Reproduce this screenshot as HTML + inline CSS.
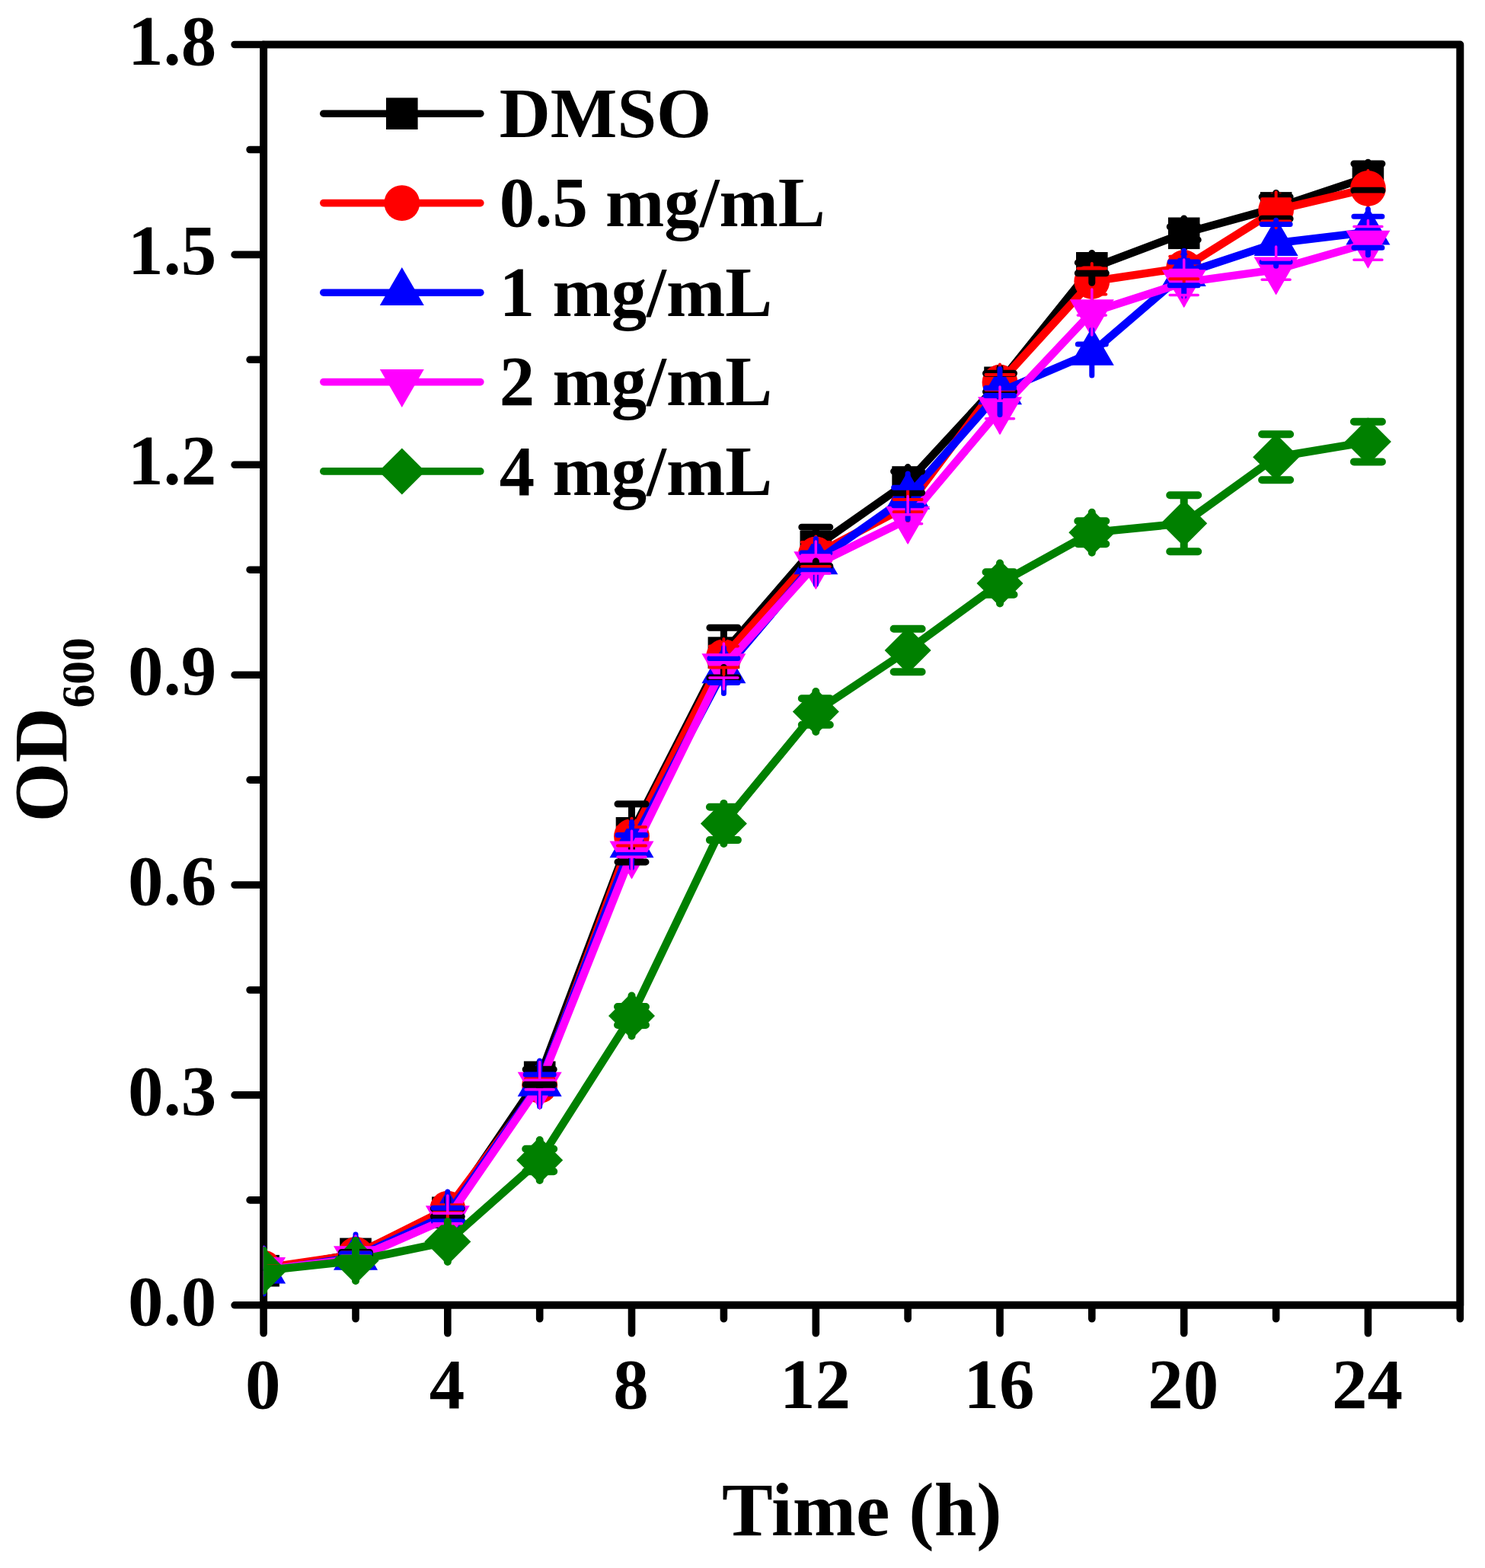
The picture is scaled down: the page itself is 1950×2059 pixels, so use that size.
<!DOCTYPE html>
<html><head><meta charset="utf-8"><title>OD600 growth curve</title>
<style>
html,body{margin:0;padding:0;background:#fff;}
body{width:1950px;height:2059px;overflow:hidden;}
svg{display:block;}
text{font-family:"Liberation Serif","Times New Roman",serif;font-weight:bold;fill:#000;}
</style></head><body>
<svg width="1950" height="2059" viewBox="0 0 1950 2059">
<rect width="1950" height="2059" fill="#fff"/>
<defs><clipPath id="pc"><rect x="345.6" y="58.5" width="1571.6999999999998" height="1655.3"/></clipPath></defs>

<path d="M346.1,58.5 H1917.3 V1713.8 H346.1 Z" fill="none" stroke="#000" stroke-width="10" stroke-linejoin="round"/>
<path d="M308.1,1713.8 H346.1 M328.1,1575.9 H346.1 M308.1,1437.9 H346.1 M328.1,1300.0 H346.1 M308.1,1162.0 H346.1 M328.1,1024.1 H346.1 M308.1,886.2 H346.1 M328.1,748.2 H346.1 M308.1,610.3 H346.1 M328.1,472.3 H346.1 M308.1,334.4 H346.1 M328.1,196.5 H346.1 M308.1,58.5 H346.1 M346.1,1713.8 V1750.8 M467.0,1713.8 V1731.8 M587.8,1713.8 V1750.8 M708.7,1713.8 V1731.8 M829.5,1713.8 V1750.8 M950.4,1713.8 V1731.8 M1071.3,1713.8 V1750.8 M1192.1,1713.8 V1731.8 M1313.0,1713.8 V1750.8 M1433.8,1713.8 V1731.8 M1554.7,1713.8 V1750.8 M1675.6,1713.8 V1731.8 M1796.4,1713.8 V1750.8 M1917.3,1713.8 V1731.8" fill="none" stroke="#000" stroke-width="9.6" stroke-linecap="round"/>
<text x="284.2" y="1739.8" font-size="93" text-anchor="end">0.0</text>
<text x="284.2" y="1463.9" font-size="93" text-anchor="end">0.3</text>
<text x="284.2" y="1188.0" font-size="93" text-anchor="end">0.6</text>
<text x="284.2" y="912.2" font-size="93" text-anchor="end">0.9</text>
<text x="284.2" y="636.3" font-size="93" text-anchor="end">1.2</text>
<text x="284.2" y="360.4" font-size="93" text-anchor="end">1.5</text>
<text x="284.2" y="84.5" font-size="93" text-anchor="end">1.8</text>
<text x="345.2" y="1849" font-size="93" text-anchor="middle">0</text>
<text x="586.9" y="1849" font-size="93" text-anchor="middle">4</text>
<text x="828.6" y="1849" font-size="93" text-anchor="middle">8</text>
<text x="1070.4" y="1849" font-size="93" text-anchor="middle">12</text>
<text x="1312.1" y="1849" font-size="93" text-anchor="middle">16</text>
<text x="1553.8" y="1849" font-size="93" text-anchor="middle">20</text>
<text x="1795.5" y="1849" font-size="93" text-anchor="middle">24</text>
<text x="1131.8" y="2015.8" font-size="100" text-anchor="middle">Time (h)</text>
<text transform="translate(86.8,1079.4) rotate(-90)" font-size="100">OD<tspan font-size="61.5" dy="36">600</tspan></text>
<g clip-path="url(#pc)">
<polyline points="346.1,1668.7 467.0,1646.4 587.8,1592.3 708.7,1414.3 829.5,1093.8 950.4,857.1 1071.3,717.7 1192.1,633.0 1313.0,502.3 1433.8,351.8 1554.7,306.3 1675.6,272.9 1796.4,232.6" fill="none" stroke="#000000" stroke-width="10.5" stroke-linejoin="round" stroke-linecap="round"/>
<rect x="325.3" y="1647.9" width="41.6" height="41.6" fill="#000000"/>
<rect x="446.2" y="1625.6" width="41.6" height="41.6" fill="#000000"/>
<rect x="567.0" y="1571.5" width="41.6" height="41.6" fill="#000000"/>
<rect x="687.9" y="1393.5" width="41.6" height="41.6" fill="#000000"/>
<rect x="808.7" y="1073.0" width="41.6" height="41.6" fill="#000000"/>
<rect x="929.6" y="836.3" width="41.6" height="41.6" fill="#000000"/>
<rect x="1050.5" y="696.9" width="41.6" height="41.6" fill="#000000"/>
<rect x="1171.3" y="612.2" width="41.6" height="41.6" fill="#000000"/>
<rect x="1292.2" y="481.5" width="41.6" height="41.6" fill="#000000"/>
<rect x="1413.0" y="331.0" width="41.6" height="41.6" fill="#000000"/>
<rect x="1533.9" y="285.5" width="41.6" height="41.6" fill="#000000"/>
<rect x="1654.8" y="252.1" width="41.6" height="41.6" fill="#000000"/>
<rect x="1775.6" y="211.8" width="41.6" height="41.6" fill="#000000"/>
<polyline points="346.1,1665.2 467.0,1647.5 587.8,1587.2 708.7,1425.4 829.5,1098.3 950.4,862.6 1071.3,727.9 1192.1,664.1 1313.0,502.0 1433.8,369.5 1554.7,351.5 1675.6,275.8 1796.4,247.4" fill="none" stroke="#FF0000" stroke-width="10.5" stroke-linejoin="round" stroke-linecap="round"/>
<circle cx="346.1" cy="1665.2" r="23.4" fill="#FF0000"/>
<circle cx="467.0" cy="1647.5" r="23.4" fill="#FF0000"/>
<circle cx="587.8" cy="1587.2" r="23.4" fill="#FF0000"/>
<circle cx="708.7" cy="1425.4" r="23.4" fill="#FF0000"/>
<circle cx="829.5" cy="1098.3" r="23.4" fill="#FF0000"/>
<circle cx="950.4" cy="862.6" r="23.4" fill="#FF0000"/>
<circle cx="1071.3" cy="727.9" r="23.4" fill="#FF0000"/>
<circle cx="1192.1" cy="664.1" r="23.4" fill="#FF0000"/>
<circle cx="1313.0" cy="502.0" r="23.4" fill="#FF0000"/>
<circle cx="1433.8" cy="369.5" r="23.4" fill="#FF0000"/>
<circle cx="1554.7" cy="351.5" r="23.4" fill="#FF0000"/>
<circle cx="1675.6" cy="275.8" r="23.4" fill="#FF0000"/>
<circle cx="1796.4" cy="247.4" r="23.4" fill="#FF0000"/>
<polyline points="346.1,1668.9 467.0,1651.0 587.8,1595.0 708.7,1423.0 829.5,1109.5 950.4,880.5 1071.3,737.5 1192.1,652.0 1313.0,514.5 1433.8,463.0 1554.7,359.3 1675.6,319.2 1796.4,304.7" fill="none" stroke="#0000FF" stroke-width="10.5" stroke-linejoin="round" stroke-linecap="round"/>
<polygon points="346.1,1635.6 375.1,1685.6 317.1,1685.6" fill="#0000FF"/>
<polygon points="467.0,1617.7 496.0,1667.7 438.0,1667.7" fill="#0000FF"/>
<polygon points="587.8,1561.7 616.8,1611.7 558.8,1611.7" fill="#0000FF"/>
<polygon points="708.7,1389.7 737.7,1439.7 679.7,1439.7" fill="#0000FF"/>
<polygon points="829.5,1076.2 858.5,1126.2 800.5,1126.2" fill="#0000FF"/>
<polygon points="950.4,847.2 979.4,897.2 921.4,897.2" fill="#0000FF"/>
<polygon points="1071.3,704.2 1100.3,754.2 1042.3,754.2" fill="#0000FF"/>
<polygon points="1192.1,618.7 1221.1,668.7 1163.1,668.7" fill="#0000FF"/>
<polygon points="1313.0,481.2 1342.0,531.2 1284.0,531.2" fill="#0000FF"/>
<polygon points="1433.8,429.7 1462.8,479.7 1404.8,479.7" fill="#0000FF"/>
<polygon points="1554.7,326.0 1583.7,376.0 1525.7,376.0" fill="#0000FF"/>
<polygon points="1675.6,285.9 1704.6,335.9 1646.6,335.9" fill="#0000FF"/>
<polygon points="1796.4,271.4 1825.4,321.4 1767.4,321.4" fill="#0000FF"/>
<polyline points="346.1,1667.8 467.0,1652.9 587.8,1600.0 708.7,1424.5 829.5,1121.3 950.4,875.0 1071.3,741.0 1192.1,681.7 1313.0,538.0 1433.8,410.0 1554.7,370.9 1675.6,354.1 1796.4,319.4" fill="none" stroke="#FF00FF" stroke-width="10.5" stroke-linejoin="round" stroke-linecap="round"/>
<polygon points="346.1,1701.1 375.1,1651.1 317.1,1651.1" fill="#FF00FF"/>
<polygon points="467.0,1686.2 496.0,1636.2 438.0,1636.2" fill="#FF00FF"/>
<polygon points="587.8,1633.3 616.8,1583.3 558.8,1583.3" fill="#FF00FF"/>
<polygon points="708.7,1457.8 737.7,1407.8 679.7,1407.8" fill="#FF00FF"/>
<polygon points="829.5,1154.6 858.5,1104.6 800.5,1104.6" fill="#FF00FF"/>
<polygon points="950.4,908.3 979.4,858.3 921.4,858.3" fill="#FF00FF"/>
<polygon points="1071.3,774.3 1100.3,724.3 1042.3,724.3" fill="#FF00FF"/>
<polygon points="1192.1,715.0 1221.1,665.0 1163.1,665.0" fill="#FF00FF"/>
<polygon points="1313.0,571.3 1342.0,521.3 1284.0,521.3" fill="#FF00FF"/>
<polygon points="1433.8,443.3 1462.8,393.3 1404.8,393.3" fill="#FF00FF"/>
<polygon points="1554.7,404.2 1583.7,354.2 1525.7,354.2" fill="#FF00FF"/>
<polygon points="1675.6,387.4 1704.6,337.4 1646.6,337.4" fill="#FF00FF"/>
<polygon points="1796.4,352.7 1825.4,302.7 1767.4,302.7" fill="#FF00FF"/>
<polyline points="346.1,1668.5 467.0,1655.5 587.8,1630.5 708.7,1523.5 829.5,1334.0 950.4,1081.4 1071.3,934.5 1192.1,854.0 1313.0,766.0 1433.8,699.2 1554.7,687.3 1675.6,600.2 1796.4,580.1" fill="none" stroke="#008000" stroke-width="10.5" stroke-linejoin="round" stroke-linecap="round"/>
<polygon points="346.1,1638.0 376.6,1668.5 346.1,1699.0 315.6,1668.5" fill="#008000"/>
<polygon points="467.0,1625.0 497.5,1655.5 467.0,1686.0 436.5,1655.5" fill="#008000"/>
<polygon points="587.8,1600.0 618.3,1630.5 587.8,1661.0 557.3,1630.5" fill="#008000"/>
<polygon points="708.7,1493.0 739.2,1523.5 708.7,1554.0 678.2,1523.5" fill="#008000"/>
<polygon points="829.5,1303.5 860.0,1334.0 829.5,1364.5 799.0,1334.0" fill="#008000"/>
<polygon points="950.4,1050.9 980.9,1081.4 950.4,1111.9 919.9,1081.4" fill="#008000"/>
<polygon points="1071.3,904.0 1101.8,934.5 1071.3,965.0 1040.8,934.5" fill="#008000"/>
<polygon points="1192.1,823.5 1222.6,854.0 1192.1,884.5 1161.6,854.0" fill="#008000"/>
<polygon points="1313.0,735.5 1343.5,766.0 1313.0,796.5 1282.5,766.0" fill="#008000"/>
<polygon points="1433.8,668.7 1464.3,699.2 1433.8,729.7 1403.3,699.2" fill="#008000"/>
<polygon points="1554.7,656.8 1585.2,687.3 1554.7,717.8 1524.2,687.3" fill="#008000"/>
<polygon points="1675.6,569.7 1706.1,600.2 1675.6,630.7 1645.1,600.2" fill="#008000"/>
<polygon points="1796.4,549.6 1826.9,580.1 1796.4,610.6 1765.9,580.1" fill="#008000"/>
<path d="M346.1,1649.3 V1666.70 M346.1,1688.1 V1670.70 M327.6,1666.7 H364.6 M327.6,1670.7 H364.6 M467.0,1627.0 V1644.40 M467.0,1665.8 V1648.40 M448.5,1644.4 H485.5 M448.5,1648.4 H485.5 M587.8,1572.9 V1587.00 M587.8,1611.7 V1597.60 M569.3,1587.0 H606.3 M569.3,1597.6 H606.3 M708.7,1394.9 V1404.30 M708.7,1433.7 V1424.30 M690.2,1404.3 H727.2 M690.2,1424.3 H727.2 M829.5,1074.4 V1055.70 M829.5,1113.2 V1131.90 M811.0,1055.7 H848.0 M811.0,1131.9 H848.0 M950.4,837.7 V824.30 M950.4,876.5 V889.90 M931.9,824.3 H968.9 M931.9,889.9 H968.9 M1071.3,698.3 V692.20 M1071.3,737.1 V743.20 M1052.8,692.2 H1089.8 M1052.8,743.2 H1089.8 M1192.1,613.6 V619.00 M1192.1,652.4 V647.00 M1173.6,619.0 H1210.6 M1173.6,647.0 H1210.6 M1313.0,482.9 V490.20 M1313.0,521.7 V514.40 M1294.5,490.2 H1331.5 M1294.5,514.4 H1331.5 M1433.8,332.4 V344.90 M1433.8,371.2 V358.70 M1415.3,344.9 H1452.3 M1415.3,358.7 H1452.3 M1554.7,286.9 V297.70 M1554.7,325.7 V314.90 M1536.2,297.7 H1573.2 M1536.2,314.9 H1573.2 M1675.6,253.5 V258.50 M1675.6,292.3 V287.30 M1657.1,258.5 H1694.1 M1657.1,287.3 H1694.1 M1796.4,213.2 V215.00 M1796.4,252.0 V250.20 M1777.9,215.0 H1814.9 M1777.9,250.2 H1814.9" fill="none" stroke="#000000" stroke-width="9" stroke-linecap="round"/>
<path d="M346.1,1641.7 V1662.20 M346.1,1688.7 V1668.20 M327.6,1662.2 H364.6 M327.6,1668.2 H364.6 M467.0,1624.0 V1644.50 M467.0,1671.0 V1650.50 M448.5,1644.5 H485.5 M448.5,1650.5 H485.5 M587.8,1563.7 V1582.20 M587.8,1610.7 V1592.20 M569.3,1582.2 H606.3 M569.3,1592.2 H606.3 M708.7,1401.9 V1416.00 M708.7,1448.9 V1434.80 M690.2,1416.0 H727.2 M690.2,1434.8 H727.2 M829.5,1074.8 V1086.00 M829.5,1121.8 V1110.60 M811.0,1086.0 H848.0 M811.0,1110.6 H848.0 M950.4,839.1 V848.60 M950.4,886.1 V876.60 M931.9,848.6 H968.9 M931.9,876.6 H968.9 M1071.3,704.4 V711.90 M1071.3,751.4 V743.90 M1052.8,711.9 H1089.8 M1052.8,743.9 H1089.8 M1192.1,640.6 V656.00 M1192.1,687.6 V672.20 M1173.6,656.0 H1210.6 M1173.6,672.2 H1210.6 M1313.0,478.5 V492.00 M1313.0,525.5 V512.00 M1294.5,492.0 H1331.5 M1294.5,512.0 H1331.5 M1433.8,346.0 V352.50 M1433.8,393.0 V386.50 M1415.3,352.5 H1452.3 M1415.3,386.5 H1452.3 M1554.7,328.0 V336.70 M1554.7,375.0 V366.30 M1536.2,336.7 H1573.2 M1536.2,366.3 H1573.2 M1675.6,252.3 V261.20 M1675.6,299.3 V290.40 M1657.1,261.2 H1694.1 M1657.1,290.4 H1694.1 M1796.4,223.9 V239.40 M1796.4,270.9 V255.40 M1777.9,239.4 H1814.9 M1777.9,255.4 H1814.9" fill="none" stroke="#FF0000" stroke-width="4" stroke-linecap="round"/>
<path d="M346.1,1638.9 V1665.90 M346.1,1698.9 V1671.90 M327.6,1665.9 H364.6 M327.6,1671.9 H364.6 M467.0,1621.0 V1646.00 M467.0,1681.0 V1656.00 M448.5,1646.0 H485.5 M448.5,1656.0 H485.5 M587.8,1565.0 V1586.30 M587.8,1625.0 V1603.70 M569.3,1586.3 H606.3 M569.3,1603.7 H606.3 M708.7,1393.0 V1411.00 M708.7,1453.0 V1435.00 M690.2,1411.0 H727.2 M690.2,1435.0 H727.2 M829.5,1079.5 V1096.50 M829.5,1139.5 V1122.50 M811.0,1096.5 H848.0 M811.0,1122.5 H848.0 M950.4,850.5 V864.50 M950.4,910.5 V896.50 M931.9,864.5 H968.9 M931.9,896.5 H968.9 M1071.3,707.5 V726.00 M1071.3,767.5 V749.00 M1052.8,726.0 H1089.8 M1052.8,749.0 H1089.8 M1192.1,622.0 V640.20 M1192.1,682.0 V663.80 M1173.6,640.2 H1210.6 M1173.6,663.8 H1210.6 M1313.0,484.5 V509.50 M1313.0,544.5 V519.50 M1294.5,509.5 H1331.5 M1294.5,519.5 H1331.5 M1433.8,433.0 V452.00 M1433.8,493.0 V474.00 M1415.3,452.0 H1452.3 M1415.3,474.0 H1452.3 M1554.7,329.3 V343.90 M1554.7,389.3 V374.70 M1536.2,343.9 H1573.2 M1536.2,374.7 H1573.2 M1675.6,289.2 V294.50 M1675.6,349.2 V343.90 M1657.1,294.5 H1694.1 M1657.1,343.9 H1694.1 M1796.4,274.7 V284.20 M1796.4,334.7 V325.20 M1777.9,284.2 H1814.9 M1777.9,325.2 H1814.9" fill="none" stroke="#0000FF" stroke-width="7" stroke-linecap="round"/>
<path d="M346.1,1637.8 V1664.80 M346.1,1697.8 V1670.80 M327.6,1664.8 H364.6 M327.6,1670.8 H364.6 M467.0,1622.9 V1648.90 M467.0,1682.9 V1656.90 M448.5,1648.9 H485.5 M448.5,1656.9 H485.5 M587.8,1570.0 V1593.30 M587.8,1630.0 V1606.70 M569.3,1593.3 H606.3 M569.3,1606.7 H606.3 M708.7,1394.5 V1418.25 M708.7,1454.5 V1430.75 M690.2,1418.2 H727.2 M690.2,1430.8 H727.2 M829.5,1091.3 V1117.30 M829.5,1151.3 V1125.30 M811.0,1117.3 H848.0 M811.0,1125.3 H848.0 M950.4,845.0 V860.00 M950.4,905.0 V890.00 M931.9,860.0 H968.9 M931.9,890.0 H968.9 M1071.3,711.0 V729.00 M1071.3,771.0 V753.00 M1052.8,729.0 H1089.8 M1052.8,753.0 H1089.8 M1192.1,651.7 V675.70 M1192.1,711.7 V687.70 M1173.6,675.7 H1210.6 M1173.6,687.7 H1210.6 M1313.0,508.0 V526.20 M1313.0,568.0 V549.80 M1294.5,526.2 H1331.5 M1294.5,549.8 H1331.5 M1433.8,380.0 V406.00 M1433.8,440.0 V414.00 M1415.3,406.0 H1452.3 M1415.3,414.0 H1452.3 M1554.7,340.9 V354.40 M1554.7,400.9 V387.40 M1536.2,354.4 H1573.2 M1536.2,387.4 H1573.2 M1675.6,324.1 V341.00 M1675.6,384.1 V367.20 M1657.1,341.0 H1694.1 M1657.1,367.2 H1694.1 M1796.4,289.4 V297.50 M1796.4,349.4 V341.30 M1777.9,297.5 H1814.9 M1777.9,341.3 H1814.9" fill="none" stroke="#FF00FF" stroke-width="3.5" stroke-linecap="round"/>
<path d="M346.1,1642.0 V1665.50 M346.1,1695.0 V1671.50 M327.6,1665.5 H364.6 M327.6,1671.5 H364.6 M467.0,1629.0 V1652.50 M467.0,1682.0 V1658.50 M448.5,1652.5 H485.5 M448.5,1658.5 H485.5 M587.8,1604.0 V1627.50 M587.8,1657.0 V1633.50 M569.3,1627.5 H606.3 M569.3,1633.5 H606.3 M708.7,1497.0 V1508.70 M708.7,1550.0 V1538.30 M690.2,1508.7 H727.2 M690.2,1538.3 H727.2 M829.5,1307.5 V1322.00 M829.5,1360.5 V1346.00 M811.0,1322.0 H848.0 M811.0,1346.0 H848.0 M950.4,1054.9 V1059.70 M950.4,1107.9 V1103.10 M931.9,1059.7 H968.9 M931.9,1103.1 H968.9 M1071.3,908.0 V917.20 M1071.3,961.0 V951.80 M1052.8,917.2 H1089.8 M1052.8,951.8 H1089.8 M1192.1,827.5 V825.80 M1192.1,880.5 V882.20 M1173.6,825.8 H1210.6 M1173.6,882.2 H1210.6 M1313.0,739.5 V751.30 M1313.0,792.5 V780.70 M1294.5,751.3 H1331.5 M1294.5,780.7 H1331.5 M1433.8,672.7 V684.20 M1433.8,725.7 V714.20 M1415.3,684.2 H1452.3 M1415.3,714.2 H1452.3 M1554.7,660.8 V650.30 M1554.7,713.8 V724.30 M1536.2,650.3 H1573.2 M1536.2,724.3 H1573.2 M1675.6,573.7 V570.20 M1675.6,626.7 V630.20 M1657.1,570.2 H1694.1 M1657.1,630.2 H1694.1 M1796.4,553.6 V553.80 M1796.4,606.6 V606.40 M1777.9,553.8 H1814.9 M1777.9,606.4 H1814.9" fill="none" stroke="#008000" stroke-width="10" stroke-linecap="round"/>
</g>
<line x1="424.8" y1="149.2" x2="630.8" y2="149.2" stroke="#000000" stroke-width="9.6" stroke-linecap="round"/>
<rect x="507.0" y="128.4" width="41.6" height="41.6" fill="#000000"/>
<text x="655.8" y="179.8" font-size="92.8">DMSO</text>
<line x1="424.8" y1="266.6" x2="630.8" y2="266.6" stroke="#FF0000" stroke-width="9.6" stroke-linecap="round"/>
<circle cx="527.8" cy="266.6" r="23.4" fill="#FF0000"/>
<text x="655.8" y="297.2" font-size="92.8">0.5 mg/mL</text>
<line x1="424.8" y1="384.2" x2="630.8" y2="384.2" stroke="#0000FF" stroke-width="9.6" stroke-linecap="round"/>
<polygon points="527.8,350.9 556.8,400.9 498.8,400.9" fill="#0000FF"/>
<text x="655.8" y="414.8" font-size="92.8">1 mg/mL</text>
<line x1="424.8" y1="501.6" x2="630.8" y2="501.6" stroke="#FF00FF" stroke-width="9.6" stroke-linecap="round"/>
<polygon points="527.8,534.9 556.8,484.9 498.8,484.9" fill="#FF00FF"/>
<text x="655.8" y="532.2" font-size="92.8">2 mg/mL</text>
<line x1="424.8" y1="618.9" x2="630.8" y2="618.9" stroke="#008000" stroke-width="9.6" stroke-linecap="round"/>
<polygon points="527.8,588.4 558.3,618.9 527.8,649.4 497.3,618.9" fill="#008000"/>
<text x="655.8" y="649.5" font-size="92.8">4 mg/mL</text>
</svg></body></html>
